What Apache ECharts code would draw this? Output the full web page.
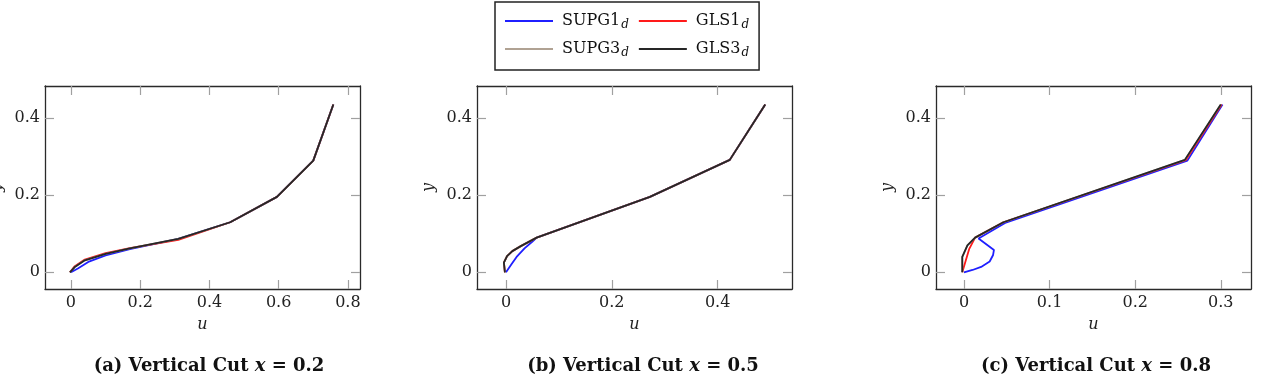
<!DOCTYPE html>
<html>
<head>
<meta charset="utf-8">
<script src="https://cdn.jsdelivr.net/npm/echarts@6/dist/echarts.min.js"></script>
<style>
  html, body { margin: 0; padding: 0; background: #fff; }
  #chart { width: 1264px; height: 382px; }
</style>
</head>
<body>
<div id="chart"></div>
<script>
// series names (legend shows them with a subscript d)
const seriesNames = ["SUPG1", "GLS1", "SUPG3", "GLS3"];

// (a) vertical cut x = 0.2, points are [u, y]
const aSUPG1 = [[0, 0], [0.02, 0.01], [0.05, 0.027], [0.1, 0.044], [0.17, 0.06], [0.31, 0.087], [0.46, 0.13], [0.595, 0.196], [0.70, 0.29], [0.758, 0.436]];
const aGLS1 = [[-0.003, 0], [0.01, 0.015], [0.04, 0.033], [0.1, 0.05], [0.17, 0.063], [0.31, 0.084], [0.46, 0.13], [0.595, 0.196], [0.70, 0.29], [0.758, 0.436]];
const aSUPG3 = [[-0.003, 0], [0.01, 0.013], [0.04, 0.031], [0.1, 0.048], [0.17, 0.062], [0.31, 0.087], [0.46, 0.13], [0.595, 0.196], [0.70, 0.29], [0.758, 0.436]];
const aGLS3 = [[-0.003, 0], [0.01, 0.013], [0.04, 0.031], [0.1, 0.048], [0.17, 0.062], [0.31, 0.087], [0.46, 0.13], [0.595, 0.196], [0.70, 0.29], [0.758, 0.436]];

// (b) vertical cut x = 0.5
const bSUPG1 = [[0, 0], [0.01, 0.02], [0.02, 0.04], [0.035, 0.062], [0.05, 0.08], [0.058, 0.09], [0.272, 0.196], [0.423, 0.292], [0.49, 0.436]];
const bGLS1 = [[-0.002, 0], [-0.004, 0.025], [0.002, 0.042], [0.012, 0.055], [0.028, 0.068], [0.058, 0.09], [0.272, 0.196], [0.423, 0.292], [0.49, 0.436]];
const bSUPG3 = [[-0.002, 0], [-0.004, 0.025], [0.002, 0.042], [0.012, 0.055], [0.028, 0.068], [0.058, 0.09], [0.272, 0.196], [0.423, 0.292], [0.49, 0.436]];
const bGLS3 = [[-0.002, 0], [-0.004, 0.025], [0.002, 0.042], [0.012, 0.055], [0.028, 0.068], [0.058, 0.09], [0.272, 0.196], [0.423, 0.292], [0.49, 0.436]];

// (c) vertical cut x = 0.8
const cSUPG1 = [[0, 0], [0.01, 0.006], [0.02, 0.014], [0.03, 0.028], [0.034, 0.045], [0.035, 0.058], [0.017, 0.088], [0.048, 0.128], [0.261, 0.29], [0.302, 0.436]];
const cGLS1 = [[-0.002, 0], [0.002, 0.03], [0.006, 0.06], [0.013, 0.09], [0.046, 0.13], [0.259, 0.291], [0.301, 0.436]];
const cSUPG3 = [[-0.002, 0], [-0.002, 0.04], [0.004, 0.07], [0.013, 0.09], [0.046, 0.13], [0.258, 0.292], [0.300, 0.436]];
const cGLS3 = [[-0.002, 0], [-0.002, 0.04], [0.004, 0.07], [0.013, 0.09], [0.046, 0.13], [0.258, 0.292], [0.300, 0.436]];

// tick labels
const axTicks = [0, 0.2, 0.4, 0.6, 0.8];
const bxTicks = [0, 0.2, 0.4];
const cxTicks = [0, 0.1, 0.2, 0.3];
const yTicks = [0, 0.2, 0.4];

const captions = ["(a) Vertical Cut ", "(b) Vertical Cut ", "(c) Vertical Cut "];
const cutValues = ["0.2", "0.5", "0.8"];

const colors = ["#1f1fff", "#ff1a1a", "#b0a293", "#262626"];
const serif = "DejaVu Serif";

const panels = [
  { data: [aSUPG1, aGLS1, aSUPG3, aGLS3], xTicks: axTicks, xmin: -0.075, xmax: 0.835, left: 45, center: 204 },
  { data: [bSUPG1, bGLS1, bSUPG3, bGLS3], xTicks: bxTicks, xmin: -0.0548, xmax: 0.5406, left: 477, center: 638 },
  { data: [cSUPG1, cGLS1, cSUPG3, cGLS3], xTicks: cxTicks, xmin: -0.0327, xmax: 0.3353, left: 936, center: 1091 },
];
const ymin = -0.0434, ymax = 0.4839;

var chart = echarts.init(document.getElementById("chart"), null, { renderer: "canvas" });

const frame = { show: true, onZero: false, lineStyle: { color: "#2a2a2a", width: 1.3 } };
const tick = (vals) => ({ show: true, inside: true, length: 9, customValues: vals, lineStyle: { color: "#a0a0a0", width: 1.2 } });
const tickLabel = (vals, margin) => ({ show: true, customValues: vals, margin: margin, fontFamily: serif, fontSize: 16, color: "#222" });

var grid = [], xAxis = [], yAxis = [], series = [], title = [];
panels.forEach((p, i) => {
  grid.push({ left: p.left, top: 86, width: 315, height: 203, show: false, containLabel: false, outerBoundsMode: "none" });
  xAxis.push({
    type: "value", gridIndex: i, position: "bottom", min: p.xmin, max: p.xmax,
    axisLine: frame, axisTick: tick(p.xTicks), axisLabel: tickLabel(p.xTicks, 6),
    splitLine: { show: false },
    name: "u", nameLocation: "middle", nameGap: 28,
    nameTextStyle: { fontFamily: serif, fontStyle: "italic", fontSize: 16, color: "#222" },
  });
  xAxis.push({
    type: "value", gridIndex: i, position: "top", min: p.xmin, max: p.xmax,
    axisLine: frame, axisTick: tick(p.xTicks), axisLabel: { show: false }, splitLine: { show: false },
  });
  yAxis.push({
    type: "value", gridIndex: i, position: "left", min: ymin, max: ymax,
    axisLine: frame, axisTick: tick(yTicks), axisLabel: tickLabel(yTicks, 5),
    splitLine: { show: false },
    name: "y", nameLocation: "middle", nameGap: 40, nameRotate: 90,
    nameTextStyle: { fontFamily: serif, fontStyle: "italic", fontSize: 16, color: "#222" },
  });
  yAxis.push({
    type: "value", gridIndex: i, position: "right", min: ymin, max: ymax,
    axisLine: frame, axisTick: tick(yTicks), axisLabel: { show: false }, splitLine: { show: false },
  });
  p.data.forEach((d, k) => {
    series.push({
      name: seriesNames[k], type: "line", xAxisIndex: 2 * i, yAxisIndex: 2 * i,
      data: d, showSymbol: false, symbol: "none", smooth: false, silent: true,
      lineStyle: { color: colors[k], width: 1.8 }, itemStyle: { color: colors[k] },
      z: 2 + k,
    });
  });
  title.push({
    text: "{b|" + captions[i] + "}{i|x}{b| = " + cutValues[i] + "}",
    left: p.center, top: 352, textAlign: "center",
    textStyle: {
      rich: {
        b: { fontFamily: serif, fontWeight: "bold", fontSize: 18, color: "#111" },
        i: { fontFamily: serif, fontStyle: "italic", fontSize: 18, color: "#111" },
      },
    },
  });
});

var option = {
  animation: false,
  backgroundColor: "#fff",
  title: title,
  legend: {
    data: seriesNames,
    left: 495, top: 2, width: 268,
    padding: [11, 10, 11, 10],
    itemGap: 10, itemWidth: 48, itemHeight: 2, icon: "rect",
    borderColor: "#222", borderWidth: 1.5,
    formatter: (name) => "{n|" + name + "}{s|d}",
    textStyle: {
      rich: {
        n: { fontFamily: serif, fontSize: 16, color: "#111", padding: [0, 0, 0, 4] },
        s: { fontFamily: serif, fontStyle: "italic", fontSize: 12, color: "#111", padding: [8, 0, 0, 1] },
      },
    },
  },
  grid: grid,
  xAxis: xAxis,
  yAxis: yAxis,
  series: series,
};

option && chart.setOption(option);
</script>
</body>
</html>
